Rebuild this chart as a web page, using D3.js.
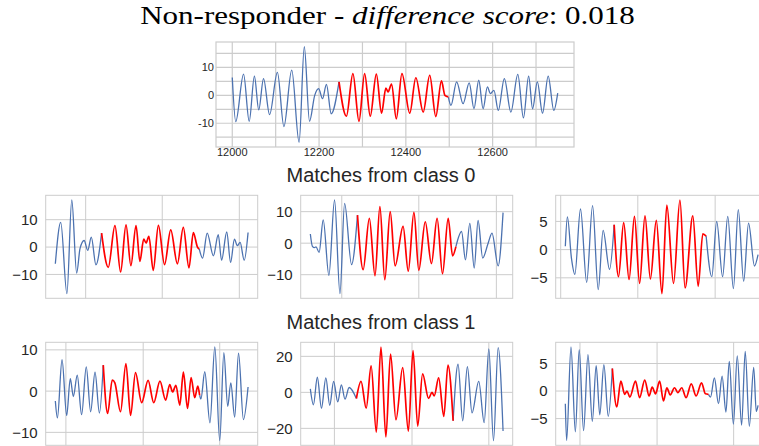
<!DOCTYPE html>
<html>
<head>
<meta charset="utf-8">
<script src="https://cdn.jsdelivr.net/npm/d3@7"></script>
<style>
  body { margin: 0; background: #fff; }
  svg { display: block; }
  .title { font-family: "Liberation Serif"; }
</style>
</head>
<body>
<div id="chart"></div>
<script>
// query series (top panel), key points
let queryX = [12000,12008,12026,12039,12051,12061,12072,12086,12104,12119,12137,12154,12166,12178,12190,12199,12208,12217,12228,12246,
  12263,12278,12292,12305,12318,12332,12344,12354,12359,12367,12378,12391,12409,12423,12440,12455,12469,12482,12490,12498,
  12504,12517,12532,12546,12557,12568,12578,12588,12595,12603,12613,12627,12642,12658,12671,12683,12692,12703,12715,12728,12741,12750];
let queryY = [6.4,-9.4,7.6,-9.3,6.9,-5.2,6.0,-6.9,8.2,-11.2,9.0,-16.8,17.4,-9.3,0,2.4,-1.2,3.9,-6.6,4.8,
  -7.5,7.8,-9.3,7.8,-7.5,7.6,-6.4,2.6,1.2,4.0,-8.4,7.8,-6.4,6.3,-6.0,7.2,-7.6,5.2,0,-0.6,
  -3.6,4.8,-3.0,4.5,-4.8,5.4,-4.8,3.0,0.6,1.8,-5.4,6.0,-6.0,7.5,-8.1,6.9,-4.8,4.8,-6.4,6.9,-5.4,0.8];
let queryRed = [12246, 12498];
let queryGridX = [12000,12100,12200,12300,12400,12500,12600,12700];
let queryLabelX = [12000,12200,12400,12600];
let queryGridY = [-15,-10,-5,0,5,10,15];
let queryLabelY = [-10,0,10];

// matches from class 0
let c0aX = [0,21,45,64,83,96,112,126,140,158,180,206,232,254,275,294,314,329,344,353,364,381,401,425,449,475,498,520,537,553,560,573,591,615,634,647,667,682,697,708,719,735,750];
let c0aY = [-6.1,9.0,-17.0,17.2,-9.5,-0.6,2.4,-1.2,3.6,-6.5,5.1,-7.4,7.8,-9.1,8.1,-6.8,7.8,-5.2,2.9,1.5,3.9,-8.5,7.9,-6.4,6.3,-6.1,7.2,-7.6,5.3,0,-0.7,-4.0,5.1,-3.2,4.5,-4.8,5.5,-5.6,2.9,0.5,1.7,-4.8,5.3];
let c0aRed = [180, 560];
let c0aGrid = [118, 416, 716];
let c0aTicks = [-10, 0, 10];

let c0bX = [0,8,16,22,34,50,72,94,115,133,160,183,205,229,251,270,289,310,329,360,380,402,421,446,470,492,513,535,552,565,587,602,619,636,651,669,690,705,729,748];
let c0bY = [2.9,-1.0,-1.4,-1.2,-2.9,7.4,-10.2,13.7,-16.0,12.6,-6.8,8.9,-8.4,7.9,-10.3,11.6,-11.6,10.0,-7.2,5.3,-8.9,9.8,-8.6,6.8,-6.5,7.9,-9.7,7.9,-4.0,-1.1,3.7,-5.3,6.3,-7.9,7.2,-4.7,0,3.2,-7.2,9.7];
let c0bRed = [183, 565];
let c0bGrid = [122, 421, 722];
let c0bTicks = [-10, 0, 10];

let c0cX = [0,8,24,37,59,83,106,128,147,172,190,207,227,248,269,289,310,331,354,376,395,421,446,466,496,517,535,548,570,589,612,632,654,673,694,713,736,750];
let c0cY = [0.6,5.8,-1.6,-4.4,7.2,-5.8,7.8,-7.1,3.4,-3.5,4.4,-4.8,4.8,-5.3,5.9,-6.0,6.0,-5.2,5.2,-7.8,7.9,-6.0,8.8,-6.8,6.0,-6.5,2.8,2.4,-4.8,5.0,-4.8,5.9,-6.9,7.1,-5.6,4.7,-2.9,-0.9];
let c0cRed = [190, 548];
let c0cGrid = [-18, 282, 583];
let c0cTicks = [-5, 0, 5];

// matches from class 1
let c1aX = [0,8,26,44,58,70,85,102,120,137,154,171,186,203,221,231,253,274,292,311,335,360,382,406,428,444,455,468,483,497,513,527,541,553,560,565,580,600,619,638,654,669,681,696,711,730,748];
let c1aY = [-2.4,-6.5,7.6,-5.9,3.0,-1.3,3.9,-5.7,5.9,-5.0,4.6,-5.3,6.3,-5.4,2.7,2.0,-5.0,6.7,-5.9,4.5,-2.8,2.6,-2.8,2.4,-2.2,1.6,-0.2,1.4,-3.4,4.6,-4.2,3.3,-1.6,1.2,-1.0,-1.9,4.7,-7.7,10.7,-12.0,9.3,-3.7,2.0,-6.3,9.2,-6.9,1.0];
let c1aRed = [186, 560];
let c1aGrid = [41, 341, 638];
let c1aTicks = [-10, 0, 10];

let c1bX = [0,12,27,43,60,75,90,106,120,134,150,178,196,216,235,255,273,292,310,331,357,379,397,415,434,457,470,479,496,516,532,552,571,589,607,625,651,672,690,708,726,745];
let c1bY = [1.9,-6.9,8.4,-8.8,8.0,-7.2,6.1,-5.3,4.2,-3.8,2.7,-3.4,6.1,-8.8,14.7,-22.1,25.2,-24.8,21.3,-15.2,13.7,-21.5,23.2,-18.7,10.3,-3.4,0,-1.9,8.0,-13.3,15.2,-15.8,15.6,-15.8,14.3,-11.4,6.1,-16.8,24.2,-26.8,24.8,-21.5];
let c1bRed = [178, 552];
let c1bGrid = [93, 393, 690];
let c1bTicks = [-20, 0, 20];

let c1cX = [0,5,22,39,54,71,88,105,120,134,150,167,183,200,216,231,240,251,273,289,309,326,338,351,367,382,395,408,425,438,453,470,490,509,530,545,557,565,580,596,610,625,638,654,669,686,700,716,733,743,750];
let c1cY = [-2.3,-9.0,8.0,-7.4,7.5,-7.2,6.6,-5.5,4.6,-4.3,4.8,-4.6,4.1,-2.9,1.8,-0.6,0,-1.1,1.8,-1.2,2.0,-0.9,0.7,-0.5,1.8,-1.8,0.6,-0.7,0.6,-0.3,0.6,-1.2,1.3,-0.9,1.5,-0.5,-0.6,-1.1,2.4,-2.3,2.7,-3.8,5.4,-6.0,6.4,-6.2,7.2,-6.4,4.3,-3.7,-2.6];
let c1cRed = [183, 557];
let c1cGrid = [57, 357, 655];
let c1cTicks = [-5, 0, 5];

let blue = "#4c72b0", red = "#ff0000", gridColor = "#cccccc";
let sans = "'Liberation Sans', Arial, sans-serif";

let svg = d3.select("#chart").append("svg")
    .attr("width", 759)
    .attr("height", 446);

let clipId = 0;

// draws one panel: grid, frame, blue series with the red matched part on top
function drawPanel(p) {
    let g = svg.append("g").attr("transform", "translate(" + p.left + "," + p.top + ")");
    let xExt = d3.extent(p.xs), yExt = d3.extent(p.ys);
    let xPad = (xExt[1] - xExt[0]) * 0.05, yPad = (yExt[1] - yExt[0]) * 0.05;
    let x = d3.scaleLinear().domain([xExt[0] - xPad, xExt[1] + xPad]).range([0, p.width]);
    let y = d3.scaleLinear().domain([yExt[0] - yPad, yExt[1] + yPad]).range([p.height, 0]);

    let id = "clip" + (clipId++);
    g.append("clipPath").attr("id", id)
        .append("rect").attr("width", p.width).attr("height", p.height);

    // grid lines
    g.selectAll(".gx").data(p.gridX.filter(function(d) { return d >= x.domain()[0] && d <= x.domain()[1]; }))
        .enter().append("line")
        .attr("x1", function(d) { return x(d); }).attr("x2", function(d) { return x(d); })
        .attr("y1", 0).attr("y2", p.height)
        .attr("stroke", gridColor).attr("stroke-width", p.gridWidth);
    g.selectAll(".gy").data(p.gridY)
        .enter().append("line")
        .attr("x1", 0).attr("x2", p.width)
        .attr("y1", function(d) { return y(d); }).attr("y2", function(d) { return y(d); })
        .attr("stroke", gridColor).attr("stroke-width", p.gridWidth);

    // frame
    g.append("rect")
        .attr("width", p.width).attr("height", p.height)
        .attr("fill", "none").attr("stroke", gridColor).attr("stroke-width", p.gridWidth);

    let pts = p.xs.map(function(d, i) { return [d, p.ys[i]]; });
    let line = d3.line()
        .x(function(d) { return x(d[0]); })
        .y(function(d) { return y(d[1]); })
        .curve(d3.curveMonotoneX);

    let lines = g.append("g").attr("clip-path", "url(#" + id + ")");
    let before = pts.filter(function(d) { return d[0] <= p.red[0]; });
    let inside = pts.filter(function(d) { return d[0] >= p.red[0] && d[0] <= p.red[1]; });
    let after = pts.filter(function(d) { return d[0] >= p.red[1]; });
    [before, after].forEach(function(seg) {
        lines.append("path").attr("d", line(seg))
            .attr("fill", "none").attr("stroke", blue).attr("stroke-width", 1.3)
            .attr("stroke-linejoin", "round");
    });
    lines.append("path").attr("d", line(inside))
        .attr("fill", "none").attr("stroke", red).attr("stroke-width", 1.7)
        .attr("stroke-linejoin", "round");

    // y tick labels
    g.selectAll(".ly").data(p.labelY)
        .enter().append("text")
        .attr("x", -p.yPad)
        .attr("y", function(d) { return y(d); })
        .attr("dy", "0.36em")
        .attr("text-anchor", "end")
        .attr("font-family", sans)
        .attr("font-size", p.fontSize)
        .attr("fill", "#262626")
        .text(p.fmt);

    // x tick labels (top panel only)
    if (p.labelX) {
        g.selectAll(".lx").data(p.labelX)
            .enter().append("text")
            .attr("x", function(d) { return x(d); })
            .attr("y", p.height + 8.5)
            .attr("text-anchor", "middle")
            .attr("font-family", sans)
            .attr("font-size", p.fontSize)
            .attr("fill", "#262626")
            .text(function(d) { return d; });
    }
}

let minus = function(d) { return d < 0 ? "\u2212" + Math.abs(d) : "" + d; };
let hyphen = function(d) { return "" + d; };

drawPanel({left: 216, top: 42, width: 358, height: 105, xs: queryX, ys: queryY, red: queryRed,
    gridX: queryGridX, gridY: queryGridY, labelY: queryLabelY, labelX: queryLabelX,
    fmt: hyphen, fontSize: 11, yPad: 2, gridWidth: 1.2});

let rowTops = [195.3, 342.3];
let colLefts = [45.7, 300.7, 555.7];
let matches = [
    [c0aX, c0aY, c0aRed, c0aGrid, c0aTicks], [c0bX, c0bY, c0bRed, c0bGrid, c0bTicks], [c0cX, c0cY, c0cRed, c0cGrid, c0cTicks],
    [c1aX, c1aY, c1aRed, c1aGrid, c1aTicks], [c1bX, c1bY, c1bRed, c1bGrid, c1bTicks], [c1cX, c1cY, c1cRed, c1cGrid, c1cTicks]
];
matches.forEach(function(m, i) {
    drawPanel({left: colLefts[i % 3], top: rowTops[Math.floor(i / 3)], width: 212, height: 103,
        xs: m[0], ys: m[1], red: m[2], gridX: m[3], gridY: m[4], labelY: m[4],
        fmt: minus, fontSize: 15, yPad: 8, gridWidth: 1});
});

// subtitles
["Matches from class 0", "Matches from class 1"].forEach(function(t, i) {
    svg.append("text")
        .attr("x", 381).attr("y", [181.5, 328.5][i])
        .attr("text-anchor", "middle")
        .attr("font-family", sans)
        .attr("font-size", 20)
        .attr("fill", "#262626")
        .text(t);
});

// title
let title = svg.append("text")
    .attr("class", "title")
    .attr("x", 387.5).attr("y", 24.5)
    .attr("text-anchor", "middle")
    .style("font-size", "26px")
    .attr("fill", "#000");
title.append("tspan").text("Non-responder - ");
title.append("tspan").style("font-style", "italic").text("difference score");
title.append("tspan").text(": 0.018");
let tw = title.node().getComputedTextLength();
title.attr("transform", "translate(387.5,0) scale(" + (495 / tw) + ",1) translate(-387.5,0)");
</script>
</body>
</html>
